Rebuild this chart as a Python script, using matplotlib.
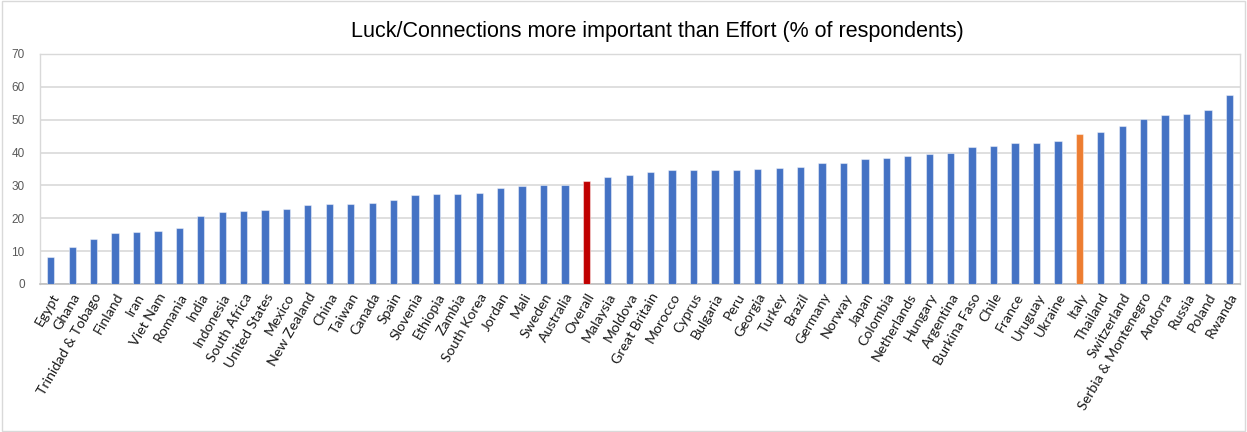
import matplotlib
matplotlib.use("Agg")
import matplotlib.pyplot as plt
from matplotlib.patches import Rectangle

countries = [
    "Egypt", "Ghana", "Trinidad & Tobago", "Finland", "Iran", "Viet Nam", "Romania",
    "India", "Indonesia", "South Africa", "United States", "Mexico", "New Zealand",
    "China", "Taiwan", "Canada", "Spain", "Slovenia", "Ethiopia", "Zambia",
    "South Korea", "Jordan", "Mali", "Sweden", "Australia", "Overall", "Malaysia",
    "Moldova", "Great Britain", "Morocco", "Cyprus", "Bulgaria", "Peru", "Georgia",
    "Turkey", "Brazil", "Germany", "Norway", "Japan", "Colombia", "Netherlands",
    "Hungary", "Argentina", "Burkina Faso", "Chile", "France", "Uruguay", "Ukraine",
    "Italy", "Thailand", "Switzerland", "Serbia & Montenegro", "Andorra", "Russia",
    "Poland", "Rwanda",
]

luck_pct = [
    8.3, 11.4, 13.7, 15.5, 15.7, 16.2, 17.0,
    20.6, 22.0, 22.2, 22.4, 22.8, 24.1,
    24.3, 24.5, 24.7, 25.6, 27.0, 27.3, 27.5,
    27.7, 29.3, 29.9, 30.0, 30.2, 31.3, 32.6,
    33.2, 34.0, 34.8, 34.8, 34.8, 34.8, 35.0,
    35.3, 35.6, 36.7, 36.7, 38.1, 38.3, 38.9,
    39.7, 39.9, 41.7, 42.1, 42.8, 43.0, 43.6,
    45.8, 46.2, 48.0, 50.1, 51.5, 51.7,
    53.0, 57.5,
]

highlight = {"Overall": "#C00000", "Italy": "#ED7D31"}
base_color = "#4472C4"
colors = [highlight.get(c, base_color) for c in countries]

y_ticks = [0, 10, 20, 30, 40, 50, 60, 70]

fig = plt.figure(figsize=(12.47, 4.32), dpi=100)
ax = fig.add_axes([40 / 1247, 148 / 432, 1200 / 1247, 230 / 432])

x = range(len(countries))
ax.bar(x, luck_pct, width=0.34, color=colors, edgecolor=(1, 1, 1, 0.45),
       linewidth=0.8, zorder=3)

ax.set_xlim(-0.5, len(countries) - 0.5)
ax.set_ylim(0, 70)
ax.set_yticks(y_ticks)
ax.set_yticklabels([str(v) for v in y_ticks], fontsize=8.5, color="#595959",
                   family="Liberation Sans")
ax.set_xticks(list(x))
ax.set_xticklabels(countries, rotation=60, ha="right", rotation_mode="anchor",
                   fontsize=10.2, family="Lato", color="#1a1a1a")
ax.tick_params(axis="both", length=0)
ax.tick_params(axis="x", pad=5)
ax.tick_params(axis="y", pad=11)

ax.grid(axis="y", color="#D9D9D9", linewidth=1.2, zorder=0)
ax.set_axisbelow(True)
for side in ["left", "right", "top"]:
    ax.spines[side].set_color("#D9D9D9")
    ax.spines[side].set_linewidth(1.0)
ax.spines["bottom"].set_color("#BFBFBF")
ax.spines["bottom"].set_linewidth(1.2)

fig.text(657 / 1247, 1 - 31 / 432,
         "Luck/Connections more important than Effort (% of respondents)",
         ha="center", va="center", fontsize=15.5, family="Liberation Sans",
         color="#000000")

fig.patches.append(Rectangle((2 / 1247, 1 / 432), 1243 / 1247, 430 / 432,
                             transform=fig.transFigure, fill=False,
                             edgecolor="#D9D9D9", linewidth=1.0))

fig.savefig("out.png", dpi=100, facecolor="white")
